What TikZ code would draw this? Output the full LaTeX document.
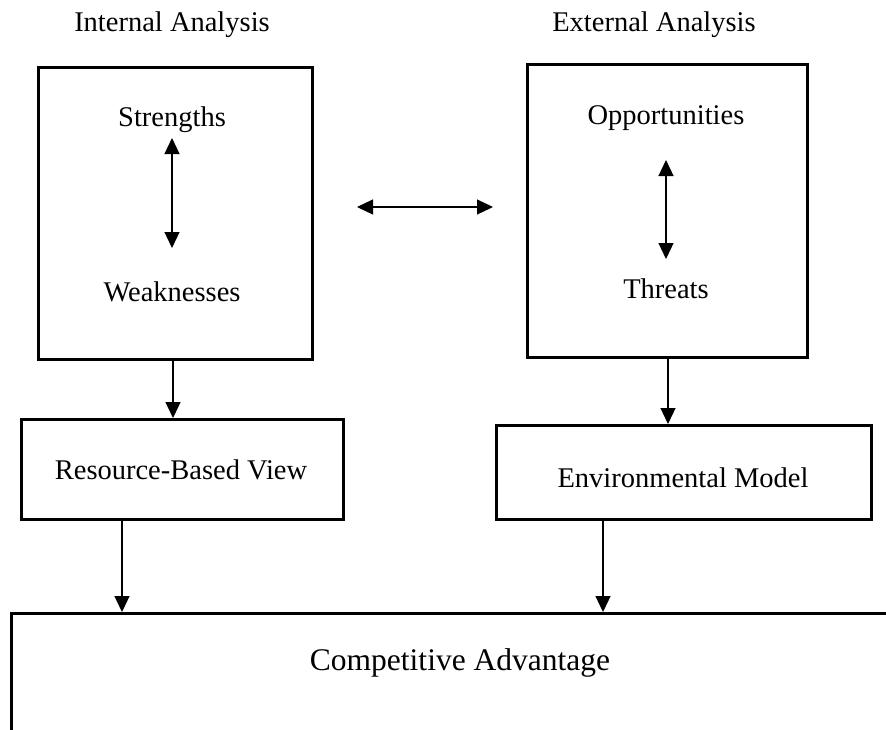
\documentclass[tikz,border=0pt]{standalone}
\usepackage{fontspec}
\setmainfont{Liberation Serif}
\usetikzlibrary{arrows.meta}
\begin{document}
\begin{tikzpicture}[x=1pt,y=-1pt,
  boxstyle/.style={draw=black,line width=2.5pt,rectangle,anchor=north west,inner sep=0pt},
  lbl/.style={font=\fontsize{28.5}{30}\selectfont,inner sep=0pt,anchor=center},
  biglbl/.style={font=\fontsize{31.5}{33}\selectfont,inner sep=0pt,anchor=center},
  conn/.style={line width=1.2pt,-{Triangle[length=16pt,width=15pt]}},
  dconn/.style={line width=1.2pt,{Triangle[length=16pt,width=15pt]}-{Triangle[length=16pt,width=15pt]}}]
\useasboundingbox (0,0) rectangle (886,729);
\begin{scope}
\clip (0,0) rectangle (886,729);
% boxes
\node[boxstyle,minimum width=274pt,minimum height=292pt] (lbox) at (37,66) {};
\node[boxstyle,minimum width=280pt,minimum height=293pt] (rbox) at (526,63) {};
\node[boxstyle,minimum width=322pt,minimum height=100pt] (rbv) at (20,418) {};
\node[boxstyle,minimum width=375pt,minimum height=94pt] (env) at (495,424) {};
\node[boxstyle,minimum width=900pt,minimum height=200pt] (cab) at (10,612) {};
% texts
\node[lbl] (ia) at (172,25) {Internal Analysis};
\node[lbl] (ea) at (654,25) {External Analysis};
\node[lbl] (str) at (172,120) {Strengths};
\node[lbl] (wea) at (172,292) {Weaknesses};
\node[lbl] (opp) at (666,118) {Opportunities};
\node[lbl] (thr) at (666,289) {Threats};
\node[lbl] (rbvt) at (181,470) {Resource-Based View};
\node[lbl] (envt) at (683,478) {Environmental Model};
\node[biglbl] (cabt) at (460,663) {Competitive Advantage};
% helper coordinates
\coordinate (s1) at (172,138);
\coordinate (w1) at (172,248);
\coordinate (o1) at (666,160);
\coordinate (t1) at (666,259);
\coordinate (h1) at (357,207);
\coordinate (h2) at (493,207);
\coordinate (la) at (173,0);
\coordinate (ra) at (668,0);
\coordinate (lb) at (122,0);
\coordinate (rb) at (603,0);
% connectors
\draw[dconn] (s1) -- (w1);
\draw[dconn] (o1) -- (t1);
\draw[dconn] (h1) -- (h2);
\draw[conn] (la |- lbox.south) -- (la |- rbv.north);
\draw[conn] (ra |- rbox.south) -- (ra |- env.north);
\draw[conn] (lb |- rbv.south) -- (lb |- cab.north);
\draw[conn] (rb |- env.south) -- (rb |- cab.north);
\end{scope}
\end{tikzpicture}
\end{document}
